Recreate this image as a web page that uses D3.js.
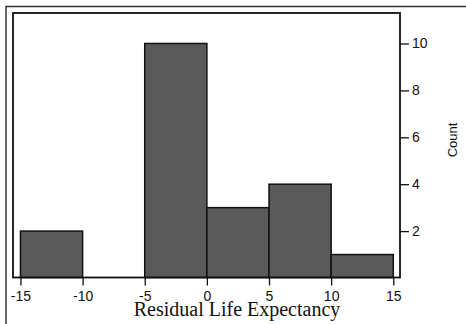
<!DOCTYPE html>
<html>
<head>
<meta charset="utf-8">
<script src="https://cdn.jsdelivr.net/npm/d3@7"></script>
<style>
  body { margin: 0; background: #fff; }
  svg { display: block; }
</style>
</head>
<body>
<div id="chart"></div>
<script>
// histogram bins (residual life expectancy) and counts
let binStarts = [-15, -10, -5, 0, 5, 10];
let binEnds = [-10, -5, 0, 5, 10, 15];
let counts = [2, 0, 10, 3, 4, 1];
let xTicks = [-15, -10, -5, 0, 5, 10, 15];
let yTicks = [2, 4, 6, 8, 10];

let width = 466,
    height = 324;

let svg = d3.select('#chart').append('svg')
    .attr('width', width)
    .attr('height', height);

// plot region
let plotLeft = 13, plotRight = 400, plotTop = 13, plotBottom = 277.5;

let x = d3.scaleLinear()
    .domain([-15.6, 15.54])
    .range([plotLeft, plotRight]);

let y = d3.scaleLinear()
    .domain([0, 11.3])
    .range([278, plotTop]);

// outer frame (runs off the page on the right/bottom)
svg.append('rect')
    .attr('x', 6)
    .attr('y', 6.5)
    .attr('width', width + 10)
    .attr('height', height + 10)
    .attr('fill', 'none')
    .attr('stroke', '#333')
    .attr('stroke-width', 1.5);

// bars
let bins = counts.map(function(c, i) {
    return { x0: binStarts[i], x1: binEnds[i], count: c };
}).filter(function(d) { return d.count > 0; });

svg.append('g')
    .selectAll('rect')
    .data(bins)
    .enter().append('rect')
    .attr('x', function(d) { return x(d.x0); })
    .attr('y', function(d) { return y(d.count); })
    .attr('width', function(d) { return x(d.x1) - x(d.x0); })
    .attr('height', function(d) { return plotBottom - y(d.count); })
    .attr('fill', '#5a5a5a')
    .attr('stroke', '#111')
    .attr('stroke-width', 1.5);

// inner frame
svg.append('rect')
    .attr('x', plotLeft)
    .attr('y', plotTop)
    .attr('width', plotRight - plotLeft)
    .attr('height', plotBottom - plotTop)
    .attr('fill', 'none')
    .attr('stroke', '#111')
    .attr('stroke-width', 1.8);

// x axis
let xAxis = d3.axisBottom(x)
    .tickValues(xTicks)
    .tickSize(8)
    .tickPadding(5.5)
    .tickFormat(d3.format('d'));

let gx = svg.append('g')
    .attr('transform', 'translate(0,' + plotBottom + ')')
    .call(xAxis);
gx.select('.domain').remove();
gx.selectAll('line').attr('stroke', '#111').attr('stroke-width', 1.3);
gx.selectAll('text')
    .attr('font-family', 'Liberation Sans, Arial, sans-serif')
    .attr('font-size', 14)
    .attr('fill', '#111')
    .text(function(d) { return d < 0 ? '-' + Math.abs(d) : d; });

// y axis on the right
let yAxis = d3.axisRight(y)
    .tickValues(yTicks)
    .tickSize(9)
    .tickPadding(3);

let gy = svg.append('g')
    .attr('transform', 'translate(' + plotRight + ',0)')
    .call(yAxis);
gy.select('.domain').remove();
gy.selectAll('line').attr('stroke', '#111').attr('stroke-width', 1.3);
gy.selectAll('text')
    .attr('font-family', 'Liberation Sans, Arial, sans-serif')
    .attr('font-size', 14)
    .attr('fill', '#111');

// axis titles
svg.append('text')
    .attr('x', 237)
    .attr('y', 316)
    .attr('text-anchor', 'middle')
    .attr('font-family', 'Liberation Serif, Times New Roman, serif')
    .attr('font-size', 20)
    .attr('fill', '#111')
    .text('Residual Life Expectancy');

svg.append('text')
    .attr('transform', 'translate(457,140) rotate(-90)')
    .attr('text-anchor', 'middle')
    .attr('font-family', 'Liberation Sans, Arial, sans-serif')
    .attr('font-size', 13)
    .attr('fill', '#111')
    .text('Count');
</script>
</body>
</html>
